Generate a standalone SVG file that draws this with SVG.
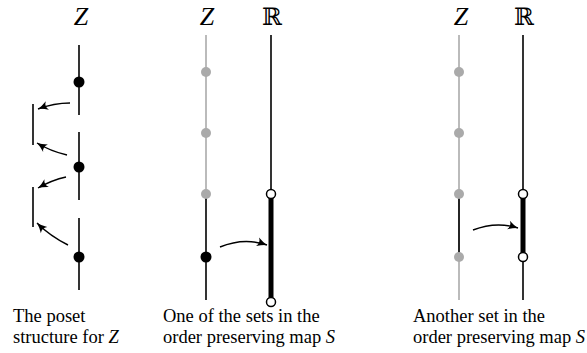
<svg xmlns="http://www.w3.org/2000/svg" width="587" height="353" viewBox="0 0 587 353">
<style>
.lbl{font-family:"Liberation Serif","Times New Roman",serif;font-size:26px;font-style:italic;text-anchor:middle;fill:#000}
.rr{font-family:"DejaVu Serif",serif;font-size:24px;text-anchor:middle;fill:#000}
.cap{font-family:"Liberation Serif","Times New Roman",serif;font-size:18.5px;fill:#000}
.k{stroke:#000;stroke-width:1.6;fill:none}
.g{stroke:#aaa;stroke-width:1.6;fill:none}
.thick{stroke:#000;stroke-width:5;fill:none}
.dk{fill:#000}
.dg{fill:#aaa}
.open{fill:#fff;stroke:#000;stroke-width:1.5}
.arr{stroke:#000;stroke-width:1.4;fill:none;marker-end:url(#ah)}
</style>
<defs>
<marker id="ah" viewBox="-11 -6 13 12" refX="0" refY="0" markerWidth="13" markerHeight="12" markerUnits="userSpaceOnUse" orient="auto">
<path d="M0,0 Q-4.5,-1.2 -10,-4.5 Q-6.5,0 -10,4.5 Q-4.5,1.2 0,0 Z" fill="#000"/>
</marker>
</defs>

<g id="panel1">
<text class="lbl" x="81" y="25">Z</text>
<g id="p1-axis">
<line class="k" x1="79" y1="45" x2="79" y2="115"/>
<line class="k" x1="79" y1="132" x2="79" y2="200"/>
<line class="k" x1="79" y1="218" x2="79" y2="290"/>
</g>
<g id="p1-n1"><circle class="dk" cx="79" cy="82" r="5.5"/></g>
<g id="p1-n2"><circle class="dk" cx="79" cy="167" r="5.5"/></g>
<g id="p1-n3"><circle class="dk" cx="79" cy="257" r="5.5"/></g>
<g id="p1-b1"><line class="k" x1="33" y1="104" x2="33" y2="145"/></g>
<g id="p1-b2"><line class="k" x1="33" y1="187" x2="33" y2="227"/></g>
<text class="cap" x="13" y="322">The poset</text>
<text class="cap" x="13" y="343">structure for <tspan font-style="italic">Z</tspan></text>
</g>

<g id="panel2">
<text class="lbl" x="207" y="25">Z</text>
<text class="rr" x="272" y="25">ℝ</text>
<g id="p2-z">
<line class="g" x1="206" y1="35" x2="206" y2="200"/>
<line class="k" x1="206" y1="194" x2="206" y2="300"/>
<circle class="dg" cx="206" cy="72" r="5"/>
<circle class="dg" cx="206" cy="133" r="5"/>
<circle class="dg" cx="206" cy="194" r="5"/>
<circle class="dk" cx="206" cy="257" r="5.5"/>
</g>
<g id="p2-r">
<line class="k" x1="271" y1="35" x2="271" y2="194"/>
<line class="thick" x1="271" y1="194" x2="271" y2="302"/>
<circle class="open" cx="271" cy="194" r="4.5"/>
<circle class="open" cx="271" cy="302" r="4.5"/>
</g>
<text class="cap" x="163" y="322">One of the sets in the</text>
<text class="cap" x="163" y="343">order preserving map <tspan font-style="italic">S</tspan></text>
</g>

<g id="panel3">
<text class="lbl" x="461" y="25">Z</text>
<text class="rr" x="524" y="25">ℝ</text>
<g id="p3-z">
<line class="g" x1="459" y1="35" x2="459" y2="300"/>
<line class="k" x1="459" y1="194" x2="459" y2="257"/>
<circle class="dg" cx="459" cy="72" r="5"/>
<circle class="dg" cx="459" cy="133" r="5"/>
<circle class="dg" cx="459" cy="194" r="5"/>
<circle class="dg" cx="459" cy="257" r="5"/>
</g>
<g id="p3-r">
<line class="k" x1="523" y1="35" x2="523" y2="300"/>
<line class="thick" x1="523" y1="194" x2="523" y2="257"/>
<circle class="open" cx="523" cy="194" r="4.5"/>
<circle class="open" cx="523" cy="257" r="4.5"/>
</g>
<text class="cap" x="413" y="322">Another set in the</text>
<text class="cap" x="413" y="343">order preserving map <tspan font-style="italic">S</tspan></text>
</g>

<g id="connectors">
<path class="arr" d="M70,103 Q54,103 38,109"/>
<path class="arr" d="M67,155 Q50,151 37,143"/>
<path class="arr" d="M66,177 Q52,180 38,188"/>
<path class="arr" d="M68,245 Q50,236 37,223"/>
<path class="arr" d="M220,247 Q244,237 267,245"/>
<path class="arr" d="M473,230 Q496,221 518,228"/>
</g>
</svg>
